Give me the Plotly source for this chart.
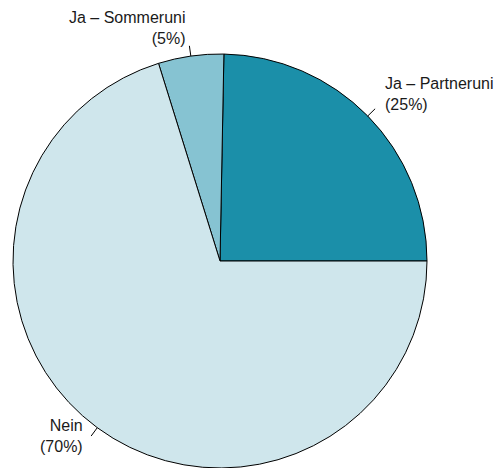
import math
import plotly.graph_objects as go

labels = ["Ja – Partneruni", "Ja – Sommeruni", "Nein"]
shares = [24.7, 5.1, 70.2]
colors = ["#1b8fa9", "#86c3d2", "#cfe6ec"]

W, H = 500, 468
CX, CY, R = 220, 261, 207  # pie centre and radius in px

total = sum(shares)
first_span = shares[0] / total * 360

# counterclockwise from 3 o'clock, like R's pie()
fig = go.Figure(go.Pie(
    labels=labels,
    values=shares,
    sort=False,
    direction="counterclockwise",
    rotation=90 - first_span,
    textinfo="none",
    hoverinfo="label+percent",
    marker=dict(colors=colors, line=dict(color="black", width=1)),
    domain=dict(x=[(CX - R) / W, (CX + R) / W], y=[0, 2 * R / H]),
    showlegend=False,
))

# R-style outside labels with short leader ticks
start = 0.0
for lab, val in zip(labels, shares):
    span = val / total * 360
    mid = math.radians(start + span / 2)
    start += span
    c, s = math.cos(mid), math.sin(mid)
    x0, y0 = CX + R * c, CY - R * s
    x1, y1 = CX + 1.05 * R * c, CY - 1.05 * R * s
    fig.add_shape(type="line", xref="paper", yref="paper",
                  x0=x0 / W, y0=1 - y0 / H, x1=x1 / W, y1=1 - y1 / H,
                  line=dict(color="black", width=1))
    lx, ly = CX + 1.1 * R * c, CY - 1.1 * R * s
    align = "left" if c > 0 else "right"
    fig.add_annotation(
        x=lx / W, y=1 - ly / H, xref="paper", yref="paper",
        text=f"{lab}<br>({val / total * 100:.0f}%)",
        showarrow=False, xanchor=align, yanchor="middle", align=align,
        yshift=8, font=dict(size=16, color="#1a1a1a"),
    )

fig.update_layout(
    width=W, height=H,
    margin=dict(l=0, r=0, t=0, b=0),
    paper_bgcolor="white",
    plot_bgcolor="white",
    font=dict(family="Liberation Sans, Arial, sans-serif"),
)

fig.write_html("out.html", config={"displayModeBar": False},
               post_script="document.body.style.margin='0';")
